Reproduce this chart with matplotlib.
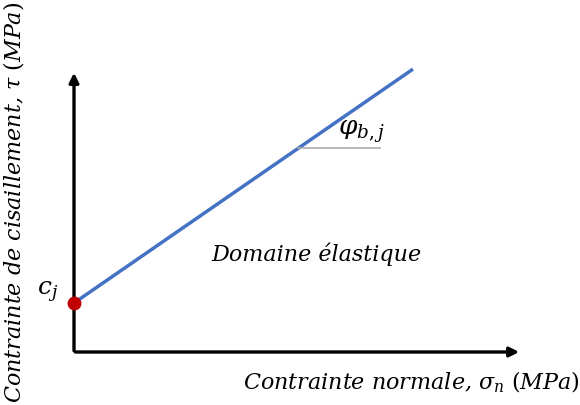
import numpy as np
import matplotlib
matplotlib.use("Agg")
import matplotlib.pyplot as plt

plt.rcParams['font.family'] = 'DejaVu Serif'
plt.rcParams['mathtext.fontset'] = 'dejavuserif'

# donnees (unites arbitraires)
cohesion = 0.98          # c_j
pente = 0.69             # tan(phi_b,j)
sigma_ligne = [0.0, 6.78]
tau_ligne = [cohesion + pente*s for s in sigma_ligne]
sigma_angle = [4.48, 6.12]
x_max = 8.96
y_max = 5.64

fig = plt.figure(figsize=(5.8, 4.05), dpi=100)
ax = fig.add_axes([74/580, 53/405, 506/580, 352/405])
ax.set_xlim(0, 506/50)
ax.set_ylim(0, 352/50)
ax.axis('off')

# axes avec fleches
ax.annotate('', xy=(x_max, 0), xytext=(-0.03, 0),
            arrowprops=dict(arrowstyle='-|>', lw=2.4, color='black', mutation_scale=14),
            annotation_clip=False)
ax.annotate('', xy=(0, y_max), xytext=(0, -0.03),
            arrowprops=dict(arrowstyle='-|>', lw=2.4, color='black', mutation_scale=14),
            annotation_clip=False)

# droite de Mohr-Coulomb
ax.plot(sigma_ligne, tau_ligne, color='#4472C4', lw=2.5, solid_capstyle='butt')
ax.plot(sigma_angle, [cohesion + pente*sigma_angle[0]]*2, color='#ABABAB', lw=1.2)
ax.plot([0], [cohesion], 'o', color='#C00000', ms=9, clip_on=False, zorder=5)

ax.text(5.76, 4.4, r'$\varphi_{b,j}$', fontsize=19, ha='center', va='center')
ax.text(4.84, 1.96, 'Domaine élastique', fontsize=16, style='italic', ha='center', va='center')
ax.text(-0.52, 1.2, r'$c_j$', fontsize=18, ha='center', va='center')
ax.text(6.74, -0.6, r'Contrainte normale, $\sigma_n$ $(MPa)$', fontsize=16, style='italic',
        ha='center', va='center')
ax.text(-1.2, 3.0, r'Contrainte de cisaillement, $\tau$ $(MPa)$', fontsize=16, style='italic',
        ha='center', va='center', rotation=90)

plt.savefig('out.png', dpi=100)
